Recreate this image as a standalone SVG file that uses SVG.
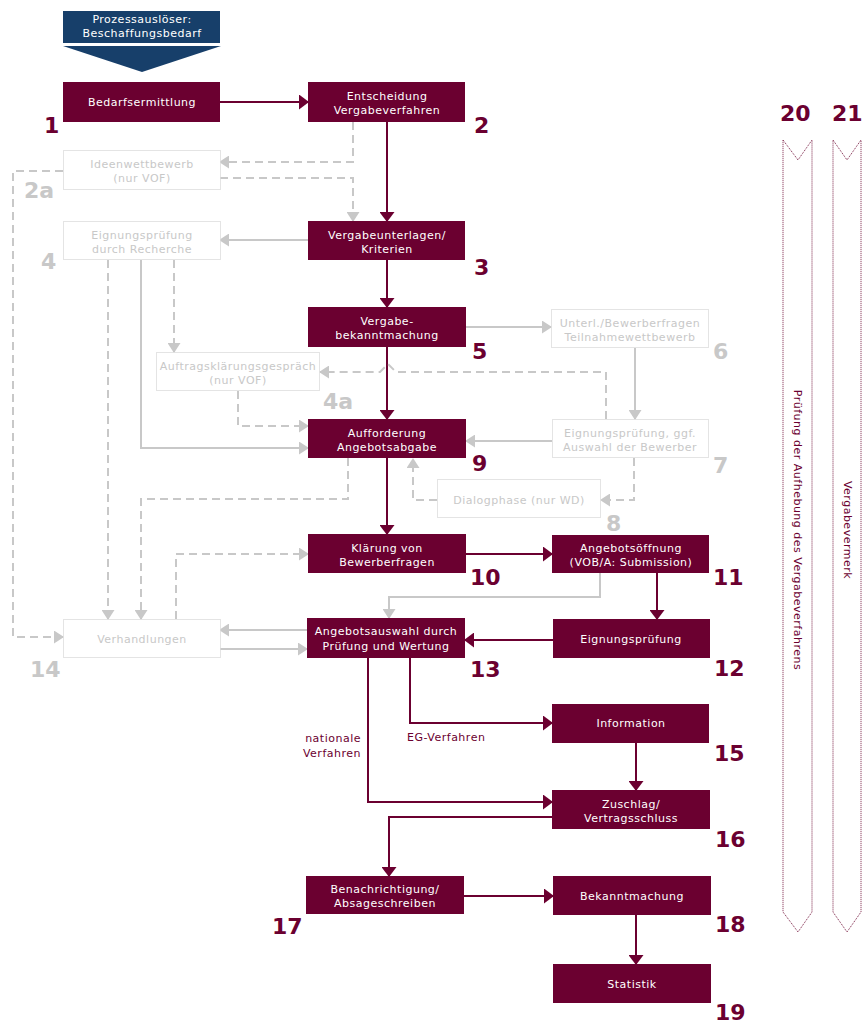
<svg xmlns="http://www.w3.org/2000/svg" width="866" height="1024" viewBox="0 0 866 1024">
<style>
text{font-family:"DejaVu Sans","Liberation Sans",sans-serif;}
.box{fill:#6b0030;}
.bt{fill:#ffffff;font-size:11px;letter-spacing:0.5px;text-anchor:middle;}
.gbox{fill:#ffffff;stroke:#c8c8c8;stroke-width:1;stroke-dasharray:1,1;}
.gt{fill:#c8c8c8;font-size:11px;letter-spacing:0.5px;text-anchor:middle;}
.num{fill:#6b0030;font-size:22px;font-weight:bold;}
.gnum{fill:#c8c8c8;font-size:22px;font-weight:bold;}
.m{fill:none;stroke:#6b0030;stroke-width:2;}
.g{fill:none;stroke:#c8c8c8;stroke-width:2;}
.gd{fill:none;stroke:#c8c8c8;stroke-width:2;stroke-dasharray:8,5;}
.lab{fill:#6b0030;font-size:11px;letter-spacing:0.5px;}
.col{fill:none;stroke:#7a1f45;stroke-width:1;stroke-dasharray:1,1;}
.vt{fill:#6b0030;font-size:11px;letter-spacing:0.5px;text-anchor:middle;dominant-baseline:central;}
</style>
<defs>
<marker id="am" viewBox="0 0 10 15" markerWidth="10" markerHeight="15" markerUnits="userSpaceOnUse" refX="9" refY="7.5" orient="auto"><path d="M0,0 L10,7.5 L0,15 z" fill="#6b0030"/></marker>
<marker id="ag" viewBox="0 0 10 13" markerWidth="10" markerHeight="13" markerUnits="userSpaceOnUse" refX="9" refY="6.5" orient="auto"><path d="M0,0 L10,6.5 L0,13 z" fill="#c8c8c8"/></marker>
</defs>

<g id="trigger">
<rect x="63" y="11" width="157" height="32" fill="#173f6a"/>
<polygon points="63,46 221,46 142,72" fill="#173f6a"/>
<text class="bt" x="142" y="23">Prozessauslöser:</text>
<text class="bt" x="142" y="37">Beschaffungsbedarf</text>
</g>

<g id="connectors">
<line class="m" x1="220" y1="102" x2="308" y2="102" marker-end="url(#am)"/>
<line class="m" x1="387" y1="122" x2="387" y2="221" marker-end="url(#am)"/>
<line class="m" x1="387" y1="260" x2="387" y2="307" marker-end="url(#am)"/>
<line class="m" x1="387" y1="347" x2="387" y2="419" marker-end="url(#am)"/>
<line class="m" x1="387" y1="458" x2="387" y2="534" marker-end="url(#am)"/>
<line class="m" x1="466" y1="554" x2="552" y2="554" marker-end="url(#am)"/>
<line class="m" x1="657" y1="573" x2="657" y2="619" marker-end="url(#am)"/>
<line class="m" x1="553" y1="640" x2="465" y2="640" marker-end="url(#am)"/>
<polyline class="m" points="410,658 410,723 552,723" marker-end="url(#am)"/>
<polyline class="m" points="368,658 368,802 552,802" marker-end="url(#am)"/>
<line class="m" x1="636" y1="743" x2="636" y2="790" marker-end="url(#am)"/>
<polyline class="m" points="552,817 389,817 389,876" marker-end="url(#am)"/>
<line class="m" x1="464" y1="896" x2="553" y2="896" marker-end="url(#am)"/>
<line class="m" x1="636" y1="915" x2="636" y2="964" marker-end="url(#am)"/>
<line class="g" x1="308" y1="240" x2="220" y2="240" marker-end="url(#ag)"/>
<polyline class="g" points="141,260 141,448 308,448" marker-end="url(#ag)"/>
<line class="g" x1="466" y1="327" x2="551" y2="327" marker-end="url(#ag)"/>
<line class="g" x1="635" y1="348" x2="635" y2="419" marker-end="url(#ag)"/>
<line class="g" x1="552" y1="441" x2="466" y2="441" marker-end="url(#ag)"/>
<polyline class="g" points="600,573 600,597 389,597 389,618" marker-end="url(#ag)"/>
<line class="g" x1="307" y1="630" x2="220" y2="630" marker-end="url(#ag)"/>
<line class="g" x1="220" y1="649" x2="307" y2="649" marker-end="url(#ag)"/>
<polyline class="gd" points="353,122 353,162 220,162" marker-end="url(#ag)"/>
<polyline class="gd" points="220,178 353,178 353,221" marker-end="url(#ag)"/>
<polyline class="gd" points="63,171 13,171 13,637 63,637" marker-end="url(#ag)"/>
<line class="gd" x1="108" y1="260" x2="108" y2="619" marker-end="url(#ag)"/>
<line class="gd" x1="174" y1="260" x2="174" y2="352" marker-end="url(#ag)"/>
<polyline class="gd" points="238,391 238,426 308,426" marker-end="url(#ag)"/>
<path class="gd" d="M606,419 L606,372 L396,372 L388,364 L380,372 L320,372" marker-end="url(#ag)"/>
<polyline class="gd" points="634,458 634,500 601,500" marker-end="url(#ag)"/>
<polyline class="gd" points="437,500 413,500 413,459" marker-end="url(#ag)"/>
<polyline class="gd" points="348,458 348,499 141,499 141,619" marker-end="url(#ag)"/>
<polyline class="gd" points="176,619 176,554 308,554" marker-end="url(#ag)"/>
</g>

<g id="n1"><rect class="box" x="63" y="82" width="157" height="40"/><text class="bt" x="142" y="106">Bedarfsermittlung</text><text class="num" x="44" y="133">1</text></g>
<g id="n2"><rect class="box" x="308" y="82" width="157" height="40"/><text class="bt" x="387" y="100">Entscheidung</text><text class="bt" x="387" y="114">Vergabeverfahren</text><text class="num" x="474" y="133">2</text></g>
<g id="n2a"><rect class="gbox" x="63.5" y="150.5" width="157" height="39"/><text class="gt" x="142" y="168">Ideenwettbewerb</text><text class="gt" x="142" y="182">(nur VOF)</text><text class="gnum" x="24" y="198">2a</text></g>
<g id="n3"><rect class="box" x="308" y="221" width="157" height="39"/><text class="bt" x="387" y="239">Vergabeunterlagen/</text><text class="bt" x="387" y="253">Kriterien</text><text class="num" x="474" y="275">3</text></g>
<g id="n4"><rect class="gbox" x="63.5" y="221.5" width="157" height="38"/><text class="gt" x="142" y="239">Eignungsprüfung</text><text class="gt" x="142" y="253">durch Recherche</text><text class="gnum" x="41" y="269">4</text></g>
<g id="n5"><rect class="box" x="308" y="307" width="158" height="40"/><text class="bt" x="387" y="325">Vergabe-</text><text class="bt" x="387" y="339">bekanntmachung</text><text class="num" x="472" y="359">5</text></g>
<g id="n4a"><rect class="gbox" x="156.5" y="352.5" width="163" height="38"/><text class="gt" x="238" y="370">Auftragsklärungsgespräch</text><text class="gt" x="238" y="384">(nur VOF)</text><text class="gnum" x="323" y="409">4a</text></g>
<g id="n6"><rect class="gbox" x="551.5" y="309.5" width="157" height="38"/><text class="gt" x="630" y="327">Unterl./Bewerberfragen</text><text class="gt" x="630" y="341">Teilnahmewettbewerb</text><text class="gnum" x="713" y="359">6</text></g>
<g id="n9"><rect class="box" x="308" y="419" width="158" height="39"/><text class="bt" x="387" y="437">Aufforderung</text><text class="bt" x="387" y="451">Angebotsabgabe</text><text class="num" x="472" y="471">9</text></g>
<g id="n7"><rect class="gbox" x="552.5" y="419.5" width="156" height="38"/><text class="gt" x="630" y="437">Eignungsprüfung, ggf.</text><text class="gt" x="630" y="451">Auswahl der Bewerber</text><text class="gnum" x="713" y="473">7</text></g>
<g id="n8"><rect class="gbox" x="437.5" y="479.5" width="163" height="38"/><text class="gt" x="519" y="504">Dialogphase (nur WD)</text><text class="gnum" x="606" y="531">8</text></g>
<g id="n10"><rect class="box" x="308" y="534" width="158" height="39"/><text class="bt" x="387" y="552">Klärung von</text><text class="bt" x="387" y="566">Bewerberfragen</text><text class="num" x="470" y="585">10</text></g>
<g id="n11"><rect class="box" x="552" y="535" width="157" height="38"/><text class="bt" x="631" y="552">Angebotsöffnung</text><text class="bt" x="631" y="566">(VOB/A: Submission)</text><text class="num" x="713" y="585">11</text></g>
<g id="n12"><rect class="box" x="553" y="619" width="157" height="39"/><text class="bt" x="631" y="643">Eignungsprüfung</text><text class="num" x="714" y="676">12</text></g>
<g id="n13"><rect class="box" x="307" y="618" width="158" height="40"/><text class="bt" x="386" y="635">Angebotsauswahl durch</text><text class="bt" x="386" y="650">Prüfung und Wertung</text><text class="num" x="470" y="677">13</text></g>
<g id="n14"><rect class="gbox" x="63.5" y="619.5" width="157" height="38"/><text class="gt" x="142" y="643">Verhandlungen</text><text class="gnum" x="30" y="677">14</text></g>
<g id="labels"><text class="lab" x="361" y="742" text-anchor="end">nationale</text><text class="lab" x="361" y="757" text-anchor="end">Verfahren</text><text class="lab" x="407" y="741">EG-Verfahren</text></g>
<g id="n15"><rect class="box" x="552" y="704" width="157" height="39"/><text class="bt" x="631" y="727">Information</text><text class="num" x="714" y="761">15</text></g>
<g id="n16"><rect class="box" x="552" y="790" width="158" height="39"/><text class="bt" x="631" y="808">Zuschlag/</text><text class="bt" x="631" y="822">Vertragsschluss</text><text class="num" x="715" y="847">16</text></g>
<g id="n17"><rect class="box" x="306" y="876" width="158" height="38"/><text class="bt" x="385" y="893">Benachrichtigung/</text><text class="bt" x="385" y="907">Absageschreiben</text><text class="num" x="272" y="934">17</text></g>
<g id="n18"><rect class="box" x="553" y="876" width="158" height="39"/><text class="bt" x="632" y="900">Bekanntmachung</text><text class="num" x="715" y="932">18</text></g>
<g id="n19"><rect class="box" x="553" y="964" width="158" height="39"/><text class="bt" x="632" y="988">Statistik</text><text class="num" x="715" y="1020">19</text></g>
<g id="n20"><text class="num" x="780" y="121">20</text><polygon class="col" points="783,140 798,160 812,140 812,912 798,932 783,912"/><text class="vt" transform="translate(797,530) rotate(90)">Prüfung der Aufhebung des Vergabeverfahrens</text></g>
<g id="n21"><text class="num" x="832" y="121">21</text><polygon class="col" points="833,140 847,160 861,140 861,912 847,932 833,912"/><text class="vt" transform="translate(847,530) rotate(90)">Vergabevermerk</text></g>
</svg>
